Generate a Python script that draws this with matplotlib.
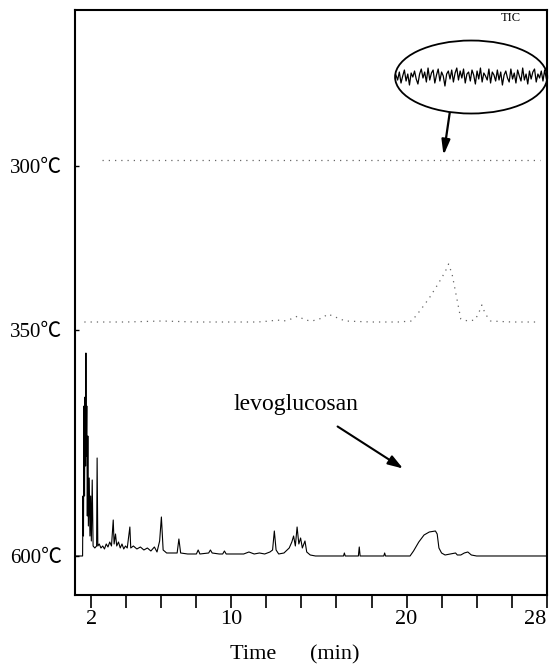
import numpy as np
import matplotlib.pyplot as plt
from matplotlib.patches import Ellipse

plt.rcParams['font.family'] = ['Liberation Serif', 'Noto Sans CJK SC', 'DejaVu Sans']

# 600 C trace: retention time (min), intensity above baseline
t600 = [1.06, 1.50, 1.52, 1.55, 1.58, 1.61, 1.64, 1.67, 1.69, 1.71, 1.74, 1.77, 1.80, 1.83,
        1.88, 1.92, 1.96, 2.00, 2.05, 2.10, 2.20, 2.30, 2.33, 2.37, 2.45, 2.55, 2.65, 2.75,
        2.85, 2.95, 3.05, 3.15, 3.25, 3.30, 3.38, 3.45, 3.55, 3.65, 3.75, 3.85, 3.95, 4.05,
        4.20, 4.25, 4.40, 4.60, 4.80, 5.00, 5.20, 5.40, 5.60, 5.75, 5.90, 6.00, 6.10, 6.30,
        6.60, 6.90, 7.00, 7.10, 7.50, 8.00, 8.10, 8.20, 8.70, 8.80, 8.90, 9.30, 9.50, 9.60,
        9.70, 10.2, 10.7, 11.0, 11.3, 11.6, 11.9, 12.2, 12.35, 12.45, 12.55, 12.7, 13.0,
        13.3, 13.45, 13.55, 13.65, 13.75, 13.85, 13.95, 14.05, 14.2, 14.3, 14.5, 14.8,
        16.4, 16.45, 16.5, 17.25, 17.3, 17.35, 18.7, 18.75, 18.8, 20.2, 20.4, 20.7, 21.0,
        21.3, 21.65, 21.75, 21.85, 22.0, 22.2, 22.5, 22.8, 22.9, 23.1, 23.3, 23.5, 23.7,
        24.0, 28.03]
i600 = [0, 0, 60, 20, 150, 60, 159, 90, 203, 100, 150, 40, 120, 30,
        78, 20, 60, 15, 76, 10, 8, 10, 98, 10, 12, 8, 10, 7,
        12, 9, 14, 10, 36, 12, 22, 10, 14, 8, 12, 7, 10, 8,
        29, 8, 10, 7, 9, 6, 8, 5, 9, 4, 15, 39, 6, 3,
        3, 3, 17, 3, 2, 2, 6, 2, 3, 6, 3, 2, 2, 5,
        2, 2, 2, 4, 2, 3, 2, 4, 6, 25, 6, 2, 3,
        8, 14, 20, 10, 29, 12, 18, 8, 15, 4, 1, 0,
        0, 3, 0, 0, 9, 0, 0, 3, 0, 0, 5, 14, 21,
        24, 25, 22, 8, 3, 1, 2, 3, 1, 1, 3, 4, 1,
        0, 0]

# 350 C trace
t350 = [1.6, 2.5, 4.0, 6.0, 8.0, 10.0, 11.5, 12.2, 12.6, 13.0, 13.4, 13.8, 14.2, 14.6,
        15.2, 15.5, 16.5, 18.0, 19.5, 20.3, 20.8, 21.3, 21.8, 22.2, 22.4, 22.6, 22.8,
        23.0, 23.1, 23.5, 23.9, 24.1, 24.3, 24.5, 24.8, 26.0, 27.6]
i350 = [0, 0, 0, 1, 0, 0, 0, 1, 2, 1, 3, 6, 2, 1,
        4, 8, 1, 0, 0, 1, 12, 24, 38, 50, 58, 48, 30,
        12, 3, 1, 2, 8, 17, 8, 1, 0, 0]

# 300 C trace (flat)
t300 = [2.6, 27.6]
i300 = [0, 0]

# TIC inset noise
noise = [2, -3, 5, -6, 1, 7, -4, 3, -8, 4, 0, 6, -2, -7, 3, 8, -1, 5, -5, 9,
         -3, 4, 7, -6, 2, 8, -4, 5, 1, -9, 3, 6, -2, 7, -5, 4, 9, -3, 6, -1,
         8, -6, 3, 5, -4, 7, 2, -7, 6, -2, 9, -5, 4, 1, -3, 8, -6, 5, 2, -4,
         7, -3, 5, -8, 2, 6, -1, -5, 8, -2, 4, -6, 7, 1, -4, 9, -3, 3, -7, 6,
         -2, 5, 8, -5, 3, -1, 6, -4, 7, -2]

levels = ['300℃', '350℃', '600℃']
xtick_vals = list(range(2, 29, 2))
xtick_text = {2: '2', 10: '10', 20: '20', 28: '28'}

base300, base350, base600 = 435, 273, 39

fig = plt.figure(figsize=(5.51, 6.68), dpi=100)
ax = fig.add_axes([0.136, 0.1093, 0.857, 0.8757])
ax.set_xlim(1.063, 28.03)
ax.set_ylim(0, 585)

ax.plot(t600, np.array(i600) + base600, color='black', lw=0.8)
ax.plot(t350, np.array(i350) + base350, color='#666666', lw=0.9, ls=(0, (1, 4)))
ax.plot(t300, np.array(i300) + base300, color='#666666', lw=0.9, ls=(0, (1, 4)))

# TIC inset
ex, ey, ew, eh = 23.69, 518, 8.69, 73
tn = np.linspace(ex - ew / 2 + 0.05, ex + ew / 2 - 0.05, len(noise))
ax.plot(tn, np.array(noise) + ey, color='black', lw=0.9)
ax.add_patch(Ellipse((ex, ey), ew, eh, fill=False, ec='black', lw=1.3, clip_on=False))
ax.text(25.98, 577, 'TIC', fontsize=9, ha='center', va='center')
ax.annotate('', xy=(22.09, 437), xytext=(22.49, 485),
            arrowprops=dict(arrowstyle='-|>,head_length=0.9,head_width=0.25', color='black', lw=1.6))

ax.text(10.1, 190, 'levoglucosan', fontsize=17, ha='left', va='center')
ax.annotate('', xy=(19.93, 125), xytext=(15.93, 170),
            arrowprops=dict(arrowstyle='-|>,head_length=0.9,head_width=0.3', color='black', lw=1.5))

ax.set_xticks(xtick_vals)
ax.set_xticklabels([xtick_text.get(v, '') for v in xtick_vals], fontsize=16)
ax.get_xticklabels()[-1].set_horizontalalignment('right')
ax.tick_params(axis='x', direction='out', length=9, width=1.2, pad=2)
ax.set_yticks([429, 265, 39])
ax.set_yticklabels(levels, fontsize=15)
ax.tick_params(axis='y', direction='in', length=3, width=1, pad=9)
for s in ax.spines.values():
    s.set_linewidth(1.5)

fig.text(0.535, 0.02, 'Time      (min)', fontsize=16, ha='center', va='center')

fig.savefig('out.png', dpi=100)
